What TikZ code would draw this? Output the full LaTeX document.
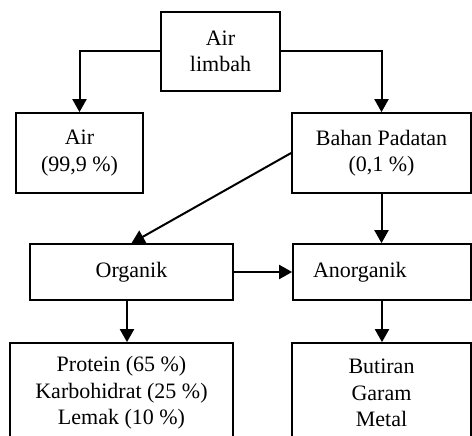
\documentclass[tikz,border=0pt]{standalone}
\usepackage{fontspec}
\setmainfont{Liberation Serif}
\usetikzlibrary{arrows.meta}
\begin{document}
\begin{tikzpicture}[x=1pt,y=1pt,
  box/.style={draw, line width=1.7pt, align=center, inner sep=0pt,
    font=\fontsize{22}{26.5}\selectfont},
  conn/.style={line width=2pt, -{Triangle[length=13pt,width=14pt]}}]
\clip (0,0) rectangle (472,-436);
\fill[white] (0,0) rectangle (472,-436);
\node[box, minimum width=119pt, minimum height=79pt] (al) at (220.5,-51.5) {Air\\limbah};
\node[box, minimum width=127pt, minimum height=80pt] (air) at (79.5,-153) {Air\\(99,9 \%)};
\node[box, minimum width=179pt, minimum height=80pt] (bp) at (381.5,-153) {Bahan Padatan\\(0,1 \%)};
\node[box, minimum width=203pt, minimum height=56pt] (org) at (131.5,-272) {Organik};
\node[box, minimum width=178pt, minimum height=56pt, text width=138pt, align=left, inner xsep=20pt] (an) at (382,-272) {Anorganik};
\node[box, minimum width=223pt, minimum height=100pt] (prot) at (121.5,-393) {Protein (65 \%)\\Karbohidrat (25 \%)\\Lemak (10 \%)};
\node[box, minimum width=179pt, minimum height=100pt] (but) at (381.5,-393) {Butiran\\Garam\\Metal};
\draw[conn] (al.west) -| (air.north);
\draw[conn] (al.east) -| (bp.north);
\draw[conn] (bp.west) -- (org.north);
\draw[conn] (bp.south) -- (bp.south |- an.north);
\draw[conn] (org.east) -- (org.east -| an.west);
\draw[conn] ([xshift=-4.5pt]org.south) -- ([xshift=-4.5pt]org.south |- prot.north);
\draw[conn] (an.south) -- (an.south |- but.north);
\end{tikzpicture}
\end{document}
